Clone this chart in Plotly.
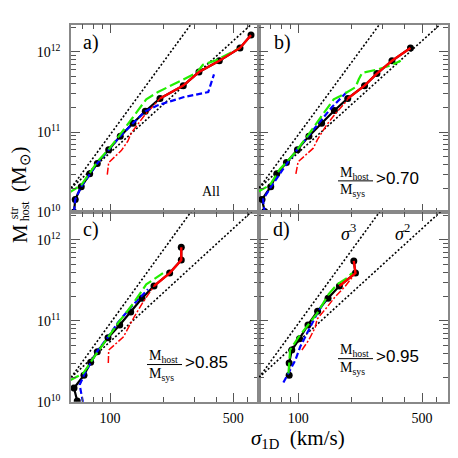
import numpy as np
import plotly.graph_objects as go

# the page body has an 8 px margin, so the figure is 450 px and everything is placed in page pixels
PAGE = 458
OFF = 8
W, H = PAGE - OFF, PAGE - OFF

# sigma_1D (km/s) and log10 of host stellar mass (Msun)
# panel a) All
a_black_sig = [62.4, 63.4, 68.6, 76.6, 84.6, 98.2, 114.2, 134.8, 158.4, 191.9, 260.2, 319.4, 416.7, 546, 630.6]
a_black_logm = [10.0, 10.16, 10.32, 10.48, 10.61, 10.78, 10.95, 11.11, 11.26, 11.42, 11.58, 11.75, 11.89, 12.05, 12.21]
a_red_sig = [191.9, 260.2, 319.4, 416.7, 546, 630.6]
a_red_logm = [11.42, 11.58, 11.75, 11.89, 12.05, 12.21]
a_reddd_sig = [96.4, 98.2, 115.8, 126.3, 131.9, 157, 187, 191.9]
a_reddd_logm = [10.47, 10.62, 10.77, 10.89, 10.99, 11.21, 11.39, 11.42]
a_blue_sig = [62.4, 63.4, 68.6, 76.6, 84.6, 98.2, 114.2, 134.8, 158.4, 183.8, 260, 360.7, 388.7]
a_blue_logm = [10.0, 10.16, 10.32, 10.48, 10.61, 10.78, 10.95, 11.11, 11.26, 11.33, 11.435, 11.50, 11.72]
a_green_sig = [58, 68.6, 85.4, 99.5, 115.8, 137.9, 160.4, 187, 213, 310, 336.6, 402.6, 546]
a_green_logm = [10.24, 10.34, 10.64, 10.80, 10.99, 11.21, 11.41, 11.50, 11.56, 11.74, 11.84, 11.90, 12.05]

# panel b) Mhost/Msys > 0.70
b_black_sig = [64.6, 62.4, 69.9, 75.6, 85.7, 98.9, 114.8, 135.4, 159.8, 190.2, 236.6, 277.7, 337.9, 429.8]
b_black_logm = [10.01, 10.16, 10.32, 10.48, 10.62, 10.78, 10.95, 11.11, 11.27, 11.42, 11.58, 11.73, 11.89, 12.05]
b_red_sig = [190.2, 236.6, 277.7, 337.9, 429.8]
b_red_logm = [11.42, 11.58, 11.73, 11.89, 12.05]
b_reddd_sig = [96.9, 99.8, 121.5, 128.5, 144.5, 164.7, 187.7, 190.2]
b_reddd_logm = [10.48, 10.63, 10.80, 10.91, 11.09, 11.25, 11.39, 11.42]
b_blue_sig = [64.6, 63.2, 70.2, 85.7, 100, 113.8, 132.7, 154.6, 187.7]
b_blue_logm = [9.99, 10.16, 10.32, 10.60, 10.80, 10.95, 11.13, 11.31, 11.50]
b_green_sig = [58.5, 69.2, 78.8, 93.9, 114.2, 133.1, 158.4, 172.9, 210.3, 219.5, 229.6, 279.3, 339.8, 378.6]
b_green_logm = [10.25, 10.34, 10.54, 10.72, 10.97, 11.17, 11.41, 11.45, 11.56, 11.66, 11.74, 11.78, 11.84, 11.89]

# panel c) Mhost/Msys > 0.85
c_black_sig = [65.1, 62.4, 71.1, 77.6, 84.6, 97.3, 113.4, 130.9, 151.7, 177.5, 217.8, 253.5, 253.5]
c_black_logm = [10.01, 10.17, 10.33, 10.49, 10.62, 10.79, 10.95, 11.11, 11.28, 11.43, 11.59, 11.75, 11.91]
c_red_sig = [177.5, 217.8, 253.5, 253.5]
c_red_logm = [11.43, 11.59, 11.75, 11.91]
c_reddd_sig = [97.7, 98.2, 118.8, 126.8, 137.9, 153.7, 177.5]
c_reddd_logm = [10.48, 10.64, 10.80, 10.92, 11.06, 11.23, 11.43]
c_blue_sig = [70.2, 67.2, 71.8, 84.3, 97.3, 110.9, 131.4, 164]
c_blue_logm = [9.99, 10.21, 10.35, 10.62, 10.80, 10.98, 11.17, 11.39]
c_green_sig = [58.5, 70.2, 85.3, 97.3, 113.4, 134.9, 160.4, 199.6]
c_green_logm = [10.26, 10.35, 10.62, 10.80, 11.00, 11.21, 11.45, 11.59]

# panel d) Mhost/Msys > 0.95
d_black_sig = [88.8, 88.8, 91.9, 101.6, 113.4, 128.5, 147.2, 170.6, 210.3, 205.7]
d_black_logm = [10.33, 10.48, 10.64, 10.78, 10.95, 11.12, 11.28, 11.43, 11.59, 11.74]
d_red_sig = [170.6, 210.3, 205.7]
d_red_logm = [11.43, 11.59, 11.74]
d_reddd_sig = [104.8, 114.3, 124.7, 127.5, 145.3, 161.9, 184.5, 210.3]
d_reddd_logm = [10.64, 10.76, 10.92, 11.02, 11.17, 11.30, 11.43, 11.59]
d_blue_sig = [82.4, 89.0, 96.0, 102.5, 114.2, 128.5, 142.1]
d_blue_logm = [10.24, 10.38, 10.51, 10.68, 10.88, 11.10, 11.25]
d_green_sig = [88.0, 89.1, 89.9, 100.3, 127.5, 148.4, 165.6, 188.7, 201.4]
d_green_logm = [10.35, 10.48, 10.64, 10.80, 11.09, 11.33, 11.45, 11.53, 11.59]

# sigma^3 and sigma^2 guide lines (end points)
ref_sig = [60, 700]
ref_cube_m = [2e10, 3.2e13]
ref_square_m = [2e10, 2.7e12]

panel_labels = ["a)", "b)", "c)", "d)"]
frac_cuts = [">0.70", ">0.85", ">0.95"]

x_major = [100, 500]
x_minor = [60, 70, 80, 90, 200, 300, 400, 600]
y_major = [1e10, 1e11, 1e12]
y_minor = [k * 10.0 ** e for e in (10, 11, 12) for k in range(2, 10) if k * 10.0 ** e < 2.2e12]

SERIF = "Liberation Serif"
SANS = "Liberation Sans"


def pxx(x):
    # page pixel -> paper fraction
    return (x - OFF) / W


def pxy(y):
    return 1 - (y - OFF) / H


panels = [
    dict(black=(a_black_sig, a_black_logm), red=(a_red_sig, a_red_logm), reddd=(a_reddd_sig, a_reddd_logm),
         blue=(a_blue_sig, a_blue_logm), green=(a_green_sig, a_green_logm)),
    dict(black=(b_black_sig, b_black_logm), red=(b_red_sig, b_red_logm), reddd=(b_reddd_sig, b_reddd_logm),
         blue=(b_blue_sig, b_blue_logm), green=(b_green_sig, b_green_logm)),
    dict(black=(c_black_sig, c_black_logm), red=(c_red_sig, c_red_logm), reddd=(c_reddd_sig, c_reddd_logm),
         blue=(c_blue_sig, c_blue_logm), green=(c_green_sig, c_green_logm)),
    dict(black=(d_black_sig, d_black_logm), red=(d_red_sig, d_red_logm), reddd=(d_reddd_sig, d_reddd_logm),
         blue=(d_blue_sig, d_blue_logm), green=(d_green_sig, d_green_logm)),
]

fig = go.Figure()

for i, p in enumerate(panels):
    sfx = "" if i == 0 else str(i + 1)
    xa, ya = "x" + sfx, "y" + sfx

    def add(sig, logm, **kw):
        fig.add_trace(go.Scatter(x=sig, y=10 ** np.array(logm), xaxis=xa, yaxis=ya,
                                 showlegend=False, hoverinfo="skip", **kw))

    add(ref_sig, np.log10(ref_cube_m), mode="lines", line=dict(color="black", width=1.6, dash="2px,2px"))
    add(ref_sig, np.log10(ref_square_m), mode="lines", line=dict(color="black", width=1.6, dash="2px,2px"))
    add(*p["black"], mode="lines+markers", line=dict(color="black", width=2.2),
        marker=dict(color="black", size=7))
    add(*p["reddd"], mode="lines", line=dict(color="red", width=1.5, dash="7px,2px,2px,2px"))
    add(*p["blue"], mode="lines", line=dict(color="#0000ff", width=2.2, dash="6px,3px"))
    add(*p["green"], mode="lines", line=dict(color="#22ee00", width=2.2, dash="11px,4px"))
    add(*p["red"], mode="lines", line=dict(color="red", width=2.4))

left = [pxx(71), pxx(259)]
right = [pxx(259), pxx(448)]
top = [pxy(216), pxy(25)]
bottom = [pxy(409), pxy(216)]
doms = [(left, top), (right, top), (left, bottom), (right, bottom)]

tick_font = dict(family=SERIF, size=14, color="black")
for i, (dx, dy) in enumerate(doms):
    sfx = "" if i == 0 else str(i + 1)
    fig.layout["xaxis" + sfx] = dict(
        domain=dx, anchor="y" + sfx, type="log", range=[np.log10(60), np.log10(700)],
        showgrid=False, zeroline=False, showline=True, linecolor="#888", linewidth=1.5,
        mirror="allticks", ticks="inside", ticklen=9, tickwidth=1.2, tickcolor="#555",
        tickmode="array", tickvals=x_major, ticktext=[str(v) for v in x_major],
        showticklabels=i >= 2, tickfont=tick_font, ticklabelstandoff=3,
        minor=dict(ticks="inside", ticklen=5, tickwidth=1, tickcolor="#555",
                   tickmode="array", tickvals=x_minor),
    )
    fig.layout["yaxis" + sfx] = dict(
        domain=dy, anchor="x" + sfx, type="log", range=[10, 12.34],
        showgrid=False, zeroline=False, showline=True, linecolor="#888", linewidth=1.5,
        mirror="allticks", ticks="inside", ticklen=9, tickwidth=1.2, tickcolor="#555",
        tickmode="array", tickvals=y_major,
        ticktext=["10<sup>10</sup>", "10<sup>11</sup>", "10<sup>12</sup>"],
        showticklabels=i % 2 == 0, tickfont=tick_font, ticklabelstandoff=6,
        minor=dict(ticks="inside", ticklen=5, tickwidth=1, tickcolor="#555",
                   tickmode="array", tickvals=y_minor),
    )

ann = []
shapes = []


def text(x, y, s, size, family=SERIF, xanchor="center", angle=0):
    ann.append(dict(x=pxx(x), y=pxy(y), xref="paper", yref="paper", text=s, showarrow=False,
                    xanchor=xanchor, yanchor="middle", textangle=angle,
                    font=dict(family=family, size=size, color="black")))


# panel letters
for lab, (x, y) in zip(panel_labels, [(91, 43), (282, 43), (91, 234), (281, 234)]):
    text(x, y, lab, 20)

text(211, 195, "All", 14)

# Mhost/Msys fractions
for cut, (x0, y0) in zip(frac_cuts, [(338, 184), (147, 371), (338, 365)]):
    text(x0, y0 - 8, "M<sub>host</sub>", 14, xanchor="left")
    text(x0, y0 + 10, "M<sub>sys</sub>", 14, xanchor="left")
    shapes.append(dict(type="line", xref="paper", yref="paper", x0=pxx(x0), x1=pxx(x0 + 35),
                       y0=pxy(y0), y1=pxy(y0), line=dict(color="black", width=1)))
    text(x0 + 36, y0 - 2, cut, 17, family=SANS, xanchor="left")

text(348, 237, "<i>σ</i><sup>3</sup>", 18)
text(402, 237, "<i>σ</i><sup>2</sup>", 18)

# axis titles
text(298, 447, "<i>σ</i><sub>1D</sub>  (km/s)", 21)
text(20, 238, "M", 21, angle=-90)
text(14, 217, "str", 12, angle=-90)
text(25, 215, "host", 12, angle=-90)
text(20, 172, "(M<sub>⊙</sub>)", 21, angle=-90)

fig.update_layout(
    width=W, height=H, margin=dict(l=0, r=0, t=0, b=0),
    paper_bgcolor="white", plot_bgcolor="white",
    annotations=ann, shapes=shapes, showlegend=False,
)

fig.write_html("out.html")
